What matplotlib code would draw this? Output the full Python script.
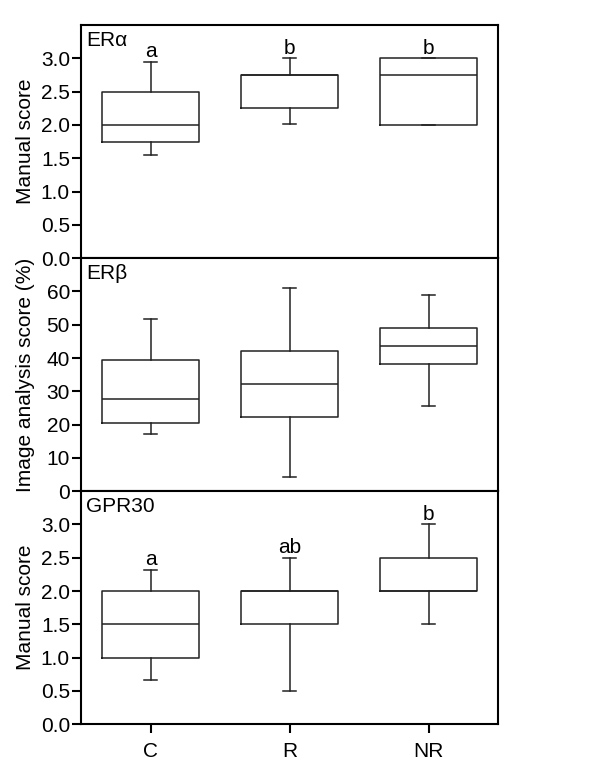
"""
Box plots of ERa, ERb and GPR30 scores for groups C, R and NR.
"""

import matplotlib
matplotlib.use("Agg")
import matplotlib.pyplot as plt

groups = ["C", "R", "NR"]

# five-number summaries: low whisker, Q1, median, Q3, high whisker
era_low = [1.55, 2.02, 2.0]
era_q1 = [1.75, 2.25, 2.0]
era_med = [2.0, 2.75, 2.75]
era_q3 = [2.5, 2.75, 3.0]
era_high = [2.95, 3.0, 3.0]
era_letters = ["a", "b", "b"]

erb_low = [17.2, 4.4, 25.7]
erb_q1 = [20.6, 22.4, 38.2]
erb_med = [27.6, 32.2, 43.5]
erb_q3 = [39.5, 42.0, 48.9]
erb_high = [51.7, 60.9, 59.0]
erb_letters = ["", "", ""]

gpr_low = [0.67, 0.5, 1.5]
gpr_q1 = [1.0, 1.5, 2.0]
gpr_med = [1.5, 2.0, 2.0]
gpr_q3 = [2.0, 2.0, 2.5]
gpr_high = [2.32, 2.5, 3.0]
gpr_letters = ["a", "ab", "b"]

plt.rcParams["font.family"] = ["Liberation Sans", "DejaVu Sans"]
plt.rcParams["font.size"] = 15


def make_stats(low, q1, med, q3, high):
    return [dict(whislo=a, q1=b, med=c, q3=d, whishi=e, fliers=[])
            for a, b, c, d, e in zip(low, q1, med, q3, high)]


def draw_panel(ax, stats, letters, name, ylim, yticks, ylabel, fmt, offset):
    line = dict(color="#222222", linewidth=1.1)
    ax.bxp(stats, positions=[1, 2, 3], widths=0.7, showfliers=False,
           boxprops=line, whiskerprops=line, capprops=line,
           medianprops=line, capwidths=0.09)
    for i, s in enumerate(stats):
        if letters[i]:
            ax.text(i + 1, s["whishi"] + offset, letters[i],
                    ha="center", va="bottom")
    ax.text(0.012, 0.975, name, transform=ax.transAxes, ha="left", va="top")
    ax.set_ylim(*ylim)
    ax.set_yticks(yticks)
    ax.set_yticklabels([fmt.format(t) for t in yticks])
    ax.set_ylabel(ylabel)
    ax.yaxis.set_label_coords(-0.111, 0.5)
    ax.set_xlim(0.5, 3.5)
    for sp in ax.spines.values():
        sp.set_linewidth(1.5)
    ax.tick_params(direction="out", length=6.5, width=1.5, pad=1.5)


fig, axes = plt.subplots(3, 1, figsize=(6, 7.83), dpi=100, sharex=True)
fig.subplots_adjust(left=0.135, right=0.83, top=0.968, bottom=0.075, hspace=0)

draw_panel(axes[0], make_stats(era_low, era_q1, era_med, era_q3, era_high),
           era_letters, "ER\u03b1", (0, 3.5), [0, 0.5, 1, 1.5, 2, 2.5, 3],
           "Manual score", "{:.1f}", 0.01)
draw_panel(axes[1], make_stats(erb_low, erb_q1, erb_med, erb_q3, erb_high),
           erb_letters, "ER\u03b2", (0, 70), [0, 10, 20, 30, 40, 50, 60],
           "Image analysis score (%)", "{:.0f}", 0)
draw_panel(axes[2], make_stats(gpr_low, gpr_q1, gpr_med, gpr_q3, gpr_high),
           gpr_letters, "GPR30", (0, 3.5), [0, 0.5, 1, 1.5, 2, 2.5, 3],
           "Manual score", "{:.1f}", 0.01)

axes[2].set_xticks([1, 2, 3])
axes[2].set_xticklabels(groups)
axes[2].tick_params(axis="x", pad=6)
for ax in axes[:2]:
    ax.tick_params(axis="x", bottom=False)

fig.savefig("out.png", dpi=100)
